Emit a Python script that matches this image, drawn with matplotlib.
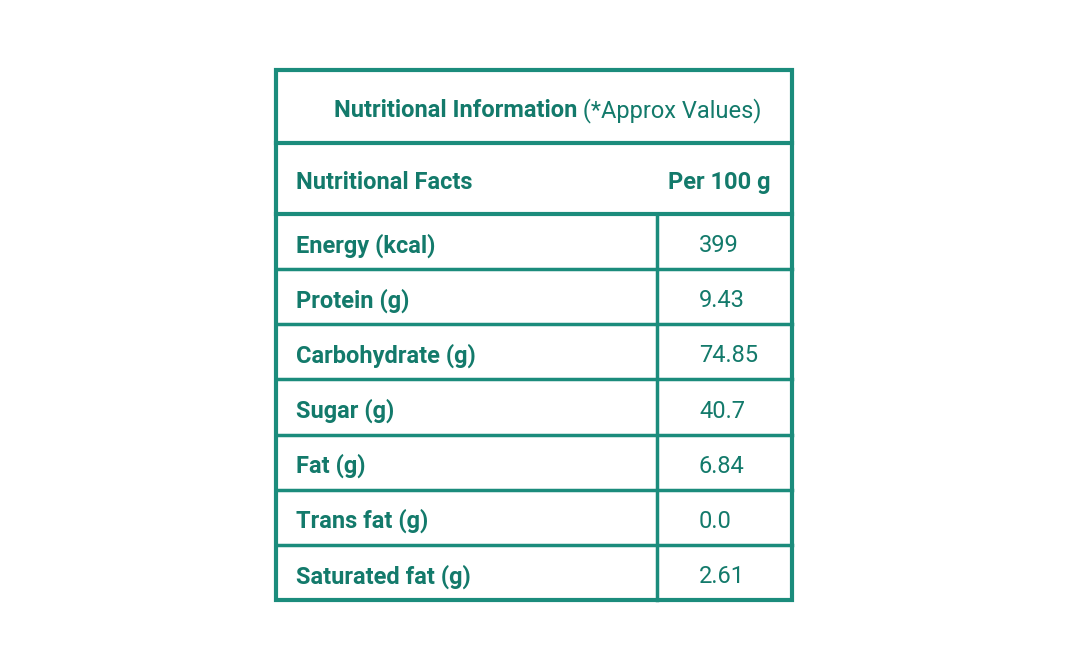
import matplotlib
matplotlib.use("Agg")
import matplotlib.pyplot as plt

title_bold = "Nutritional Information"
title_light = " (*Approx Values)"
header = ["Nutritional Facts", "Per 100 g"]
nutrients = ["Energy (kcal)", "Protein (g)", "Carbohydrate (g)", "Sugar (g)",
             "Fat (g)", "Trans fat (g)", "Saturated fat (g)"]
values = ["399", "9.43", "74.85", "40.7", "6.84", "0.0", "2.61"]

plt.rcParams['font.family'] = ['Liberation Sans Narrow', 'Roboto', 'DejaVu Sans']
line_c = "#1b8c7c"
text_c = "#137a6b"
fs = 17

fig = plt.figure(figsize=(10.68, 6.71), dpi=100)
ax = fig.add_axes([0, 0, 1, 1])
ax.set_xlim(0, 1068); ax.set_ylim(671, 0); ax.axis('off')

L, R, T, B = 276, 792, 70, 600
div = 657
title_b, head_b = 143, 214
row_h = (B - head_b) / len(nutrients)
dy = 4

ax.add_patch(plt.Rectangle((L, T), R - L, B - T, fill=False, ec=line_c, lw=3))
ax.plot([L, R], [title_b, title_b], color=line_c, lw=3)
ax.plot([L, R], [head_b, head_b], color=line_c, lw=3)
for i in range(1, len(nutrients)):
    y = head_b + i * row_h
    ax.plot([L, R], [y, y], color=line_c, lw=2.5)
ax.plot([div, div], [head_b, B], color=line_c, lw=2.5)

t1 = ax.text(334, (T + title_b) / 2 + dy, title_bold, fontsize=fs, fontweight='bold',
             color=text_c, va='center', ha='left')
fig.canvas.draw()
x_end = t1.get_window_extent().x1
xd = ax.transData.inverted().transform((x_end, 0))[0]
ax.text(xd, (T + title_b) / 2 + dy, title_light, fontsize=fs, color=text_c, va='center', ha='left')

ax.text(296, (title_b + head_b) / 2 + dy, header[0], fontsize=fs, fontweight='bold',
        color=text_c, va='center', ha='left')
ax.text(770, (title_b + head_b) / 2 + dy, header[1], fontsize=fs, fontweight='bold',
        color=text_c, va='center', ha='right')

for i, (n, v) in enumerate(zip(nutrients, values)):
    yc = head_b + (i + 0.5) * row_h + dy
    ax.text(296, yc, n, fontsize=fs, fontweight='bold', color=text_c, va='center', ha='left')
    ax.text(699, yc, v, fontsize=fs, color=text_c, va='center', ha='left')

fig.savefig("out.png", dpi=100)
